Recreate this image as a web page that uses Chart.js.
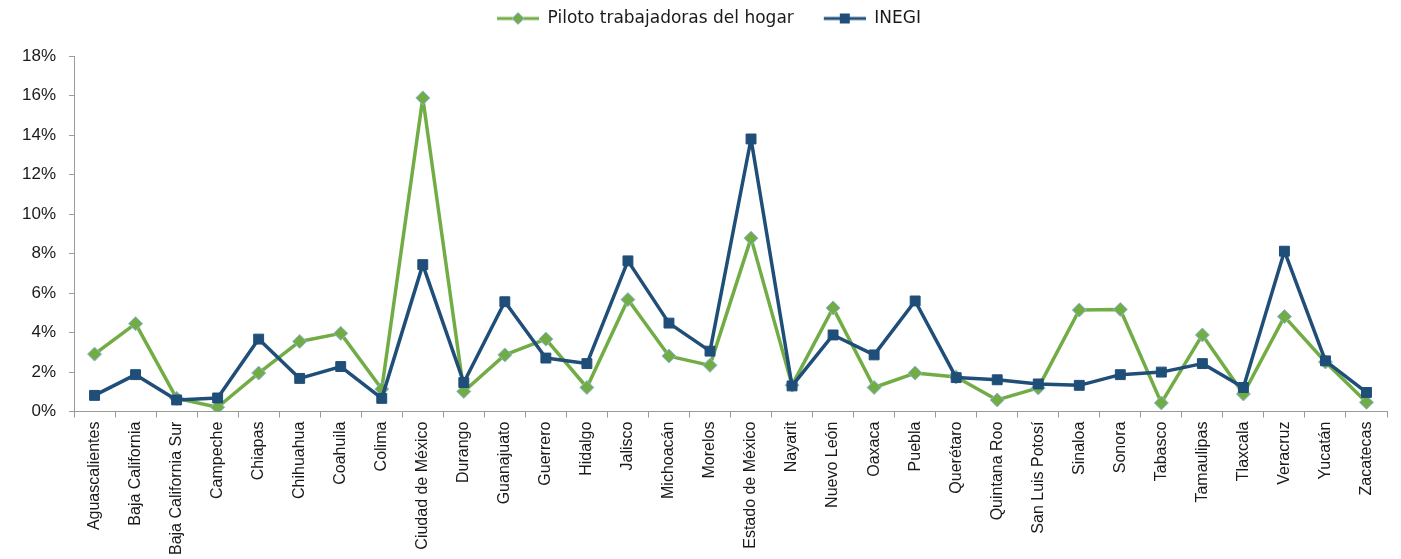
<!DOCTYPE html>
<html>
<head>
<meta charset="utf-8">
<script src="https://cdn.jsdelivr.net/npm/chart.js@4/dist/chart.umd.min.js"></script>
<style>
  html, body { margin: 0; padding: 0; background: #fff; }
  #wrap { width: 1401px; height: 559px; position: relative; }
</style>
</head>
<body>
<div id="wrap"><canvas id="chart"></canvas></div>
<script>
var estados = ['Aguascalientes', 'Baja California', 'Baja California Sur', 'Campeche', 'Chiapas',
    'Chihuahua', 'Coahuila', 'Colima', 'Ciudad de México', 'Durango', 'Guanajuato', 'Guerrero',
    'Hidalgo', 'Jalisco', 'Michoacán', 'Morelos', 'Estado de México', 'Nayarit', 'Nuevo León',
    'Oaxaca', 'Puebla', 'Querétaro', 'Quintana Roo', 'San Luis Potosí', 'Sinaloa', 'Sonora',
    'Tabasco', 'Tamaulipas', 'Tlaxcala', 'Veracruz', 'Yucatán', 'Zacatecas'];

// porcentajes (%)
var piloto = [2.91, 4.45, 0.67, 0.22, 1.95, 3.55, 3.96, 1.14, 15.88, 1.02, 2.87, 3.67,
    1.22, 5.67, 2.81, 2.34, 8.78, 1.34, 5.25, 1.22, 1.95, 1.75, 0.59, 1.20, 5.14, 5.17,
    0.44, 3.88, 0.89, 4.81, 2.51, 0.47];
var inegi = [0.82, 1.87, 0.59, 0.69, 3.67, 1.68, 2.28, 0.67, 7.44, 1.47, 5.56, 2.71,
    2.43, 7.63, 4.48, 3.06, 13.8, 1.30, 3.88, 2.87, 5.6, 1.72, 1.61, 1.40, 1.33, 1.87,
    2.00, 2.43, 1.22, 8.12, 2.57, 0.97];

var yTicks = [0, 2, 4, 6, 8, 10, 12, 14, 16, 18];

var verde = '#72AC45';
var azul = '#1F4E79';
var bordeMarca = '#8FB4DE';

// legend swatch: line with the marker in the middle, left part left blank as item gap
var GAP = 22;
function swatch(color, shape) {
    var c = document.createElement('canvas');
    c.width = 42 + GAP;
    c.height = 14;
    var ctx = c.getContext('2d');
    ctx.strokeStyle = color;
    ctx.lineWidth = 3;
    ctx.beginPath();
    ctx.moveTo(GAP, 7);
    ctx.lineTo(GAP + 42, 7);
    ctx.stroke();
    ctx.fillStyle = color;
    var cx = GAP + 21;
    if (shape == 'diamond') {
        ctx.beginPath();
        ctx.moveTo(cx, 1);
        ctx.lineTo(cx + 6, 7);
        ctx.lineTo(cx, 13);
        ctx.lineTo(cx - 6, 7);
        ctx.closePath();
        ctx.fill();
        ctx.strokeStyle = bordeMarca;
        ctx.lineWidth = 1;
        ctx.stroke();
    } else {
        ctx.fillRect(cx - 5, 2, 10, 10);
    }
    return c;
}

var legendSpace = {
    id: 'legendSpace',
    beforeInit: function (chart) {
        var fit = chart.legend.fit;
        chart.legend.fit = function () {
            fit.bind(chart.legend)();
            this.height += 19;
        };
    }
};

var chart = new Chart(document.getElementById('chart'), {
    type: 'line',
    data: {
        labels: estados,
        datasets: [
            {
                label: 'Piloto trabajadoras del hogar',
                data: piloto,
                borderColor: verde,
                backgroundColor: verde,
                borderWidth: 3.5,
                borderJoinStyle: 'round',
                pointStyle: 'rectRot',
                pointRadius: 7,
                pointBorderColor: bordeMarca,
                pointBorderWidth: 1,
                pointBackgroundColor: verde,
                tension: 0,
                order: 1
            },
            {
                label: 'INEGI',
                data: inegi,
                borderColor: azul,
                backgroundColor: azul,
                borderWidth: 3.5,
                borderJoinStyle: 'round',
                pointStyle: 'rect',
                pointRadius: 7,
                pointBorderColor: azul,
                pointBorderWidth: 1,
                pointBackgroundColor: azul,
                tension: 0,
                order: 0
            }
        ]
    },
    options: {
        responsive: true,
        maintainAspectRatio: false,
        animation: false,
        layout: { padding: { left: 9, right: 14, top: 2, bottom: 0 } },
        plugins: {
            tooltip: { enabled: false },
            legend: {
                position: 'top',
                labels: {
                    usePointStyle: true,
                    pointStyleWidth: 42 + GAP,
                    boxHeight: 14,
                    padding: 8,
                    color: '#1a1a1a',
                    font: { family: 'DejaVu Sans', size: 17 },
                    generateLabels: function (chart) {
                        return [
                            { text: 'Piloto trabajadoras del hogar', pointStyle: swatch(verde, 'diamond'),
                              fillStyle: verde, strokeStyle: verde, lineWidth: 0, fontColor: '#1a1a1a', datasetIndex: 0 },
                            { text: 'INEGI', pointStyle: swatch(azul, 'square'),
                              fillStyle: azul, strokeStyle: azul, lineWidth: 0, fontColor: '#1a1a1a', datasetIndex: 1 }
                        ];
                    }
                }
            }
        },
        scales: {
            x: {
                offset: true,
                grid: {
                    offset: true,
                    drawOnChartArea: false,
                    drawTicks: true,
                    tickLength: 6,
                    color: '#9a9a9a'
                },
                border: { color: '#9a9a9a', width: 1 },
                ticks: {
                    autoSkip: false,
                    minRotation: 90,
                    maxRotation: 90,
                    padding: 4,
                    color: '#1a1a1a',
                    font: { family: 'Liberation Sans', size: 16 }
                }
            },
            y: {
                min: 0,
                max: 18,
                afterBuildTicks: function (axis) {
                    axis.ticks = yTicks.map(function (v) { return { value: v }; });
                },
                grid: {
                    drawOnChartArea: false,
                    drawTicks: true,
                    tickLength: 5,
                    color: '#9a9a9a'
                },
                border: { color: '#9a9a9a', width: 1 },
                ticks: {
                    padding: 13,
                    color: '#1a1a1a',
                    font: { family: 'Liberation Sans', size: 17 },
                    callback: function (v) { return v + '%'; }
                }
            }
        }
    },
    plugins: [legendSpace]
});
</script>
</body>
</html>
